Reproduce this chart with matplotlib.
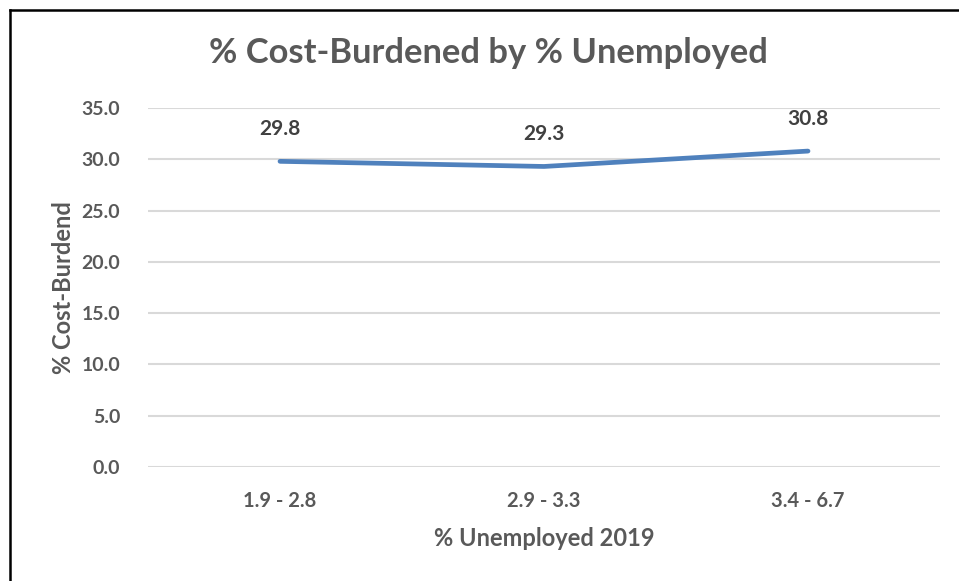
import matplotlib
matplotlib.use('Agg')
import matplotlib.pyplot as plt
from matplotlib.lines import Line2D

# dane wykresu
categories = ['1.9 - 2.8', '2.9 - 3.3', '3.4 - 6.7']
cost_burdened = [29.8, 29.3, 30.8]
y_ticks = [0, 5, 10, 15, 20, 25, 30, 35]

plt.rcParams['font.family'] = ['Lato', 'DejaVu Sans']
plt.rcParams['font.weight'] = 'bold'

fig = plt.figure(figsize=(9.59, 5.81), dpi=100)
ax = fig.add_axes([148 / 959, 1 - 467 / 581, (940 - 148) / 959, (467 - 108) / 581])

x = list(range(len(categories)))
ax.plot(x, cost_burdened, color='#4F81BD', linewidth=3.4, solid_capstyle='round', solid_joinstyle='round', zorder=3)

# etykiety danych
for xi, val in zip(x, cost_burdened):
    ax.annotate(f'{val:.1f}', (xi, val), xytext=(0, 32), textcoords='offset pixels',
                ha='center', va='center', fontsize=15, fontweight='bold', color='#404040')

ax.set_xlim(-0.5, len(categories) - 0.5)
ax.set_ylim(0, 35)
ax.set_xticks(x)
ax.set_xticklabels(categories)
ax.set_yticks(y_ticks)
ax.set_yticklabels([f'{t:.1f}' for t in y_ticks])
ax.tick_params(length=0, labelcolor='#595959')
ax.tick_params(axis='y', pad=20, labelsize=14)
ax.tick_params(axis='x', pad=17, labelsize=14.5)
ax.grid(axis='y', color='#D9D9D9', linewidth=1.5)
ax.set_axisbelow(True)
for s in ax.spines.values():
    s.set_visible(False)

ax.set_xlabel('% Unemployed 2019', fontsize=17, fontweight='bold', color='#595959', labelpad=12)
ax.set_ylabel('% Cost-Burdend', fontsize=17, fontweight='bold', color='#595959', labelpad=5)
fig.text(488 / 959, 1 - 53 / 581, '% Cost-Burdened by % Unemployed', ha='center', va='center',
         fontsize=24.8, fontweight='bold', color='#595959')

# ramka wykresu (tylko góra i lewa strona widoczne)
fig.add_artist(Line2D([10 / 959, 10 / 959], [0, 1 - 10 / 581], color='black', linewidth=1.8))
fig.add_artist(Line2D([10 / 959, 1], [1 - 10 / 581, 1 - 10 / 581], color='black', linewidth=1.8))

fig.savefig('out.png', dpi=100)
